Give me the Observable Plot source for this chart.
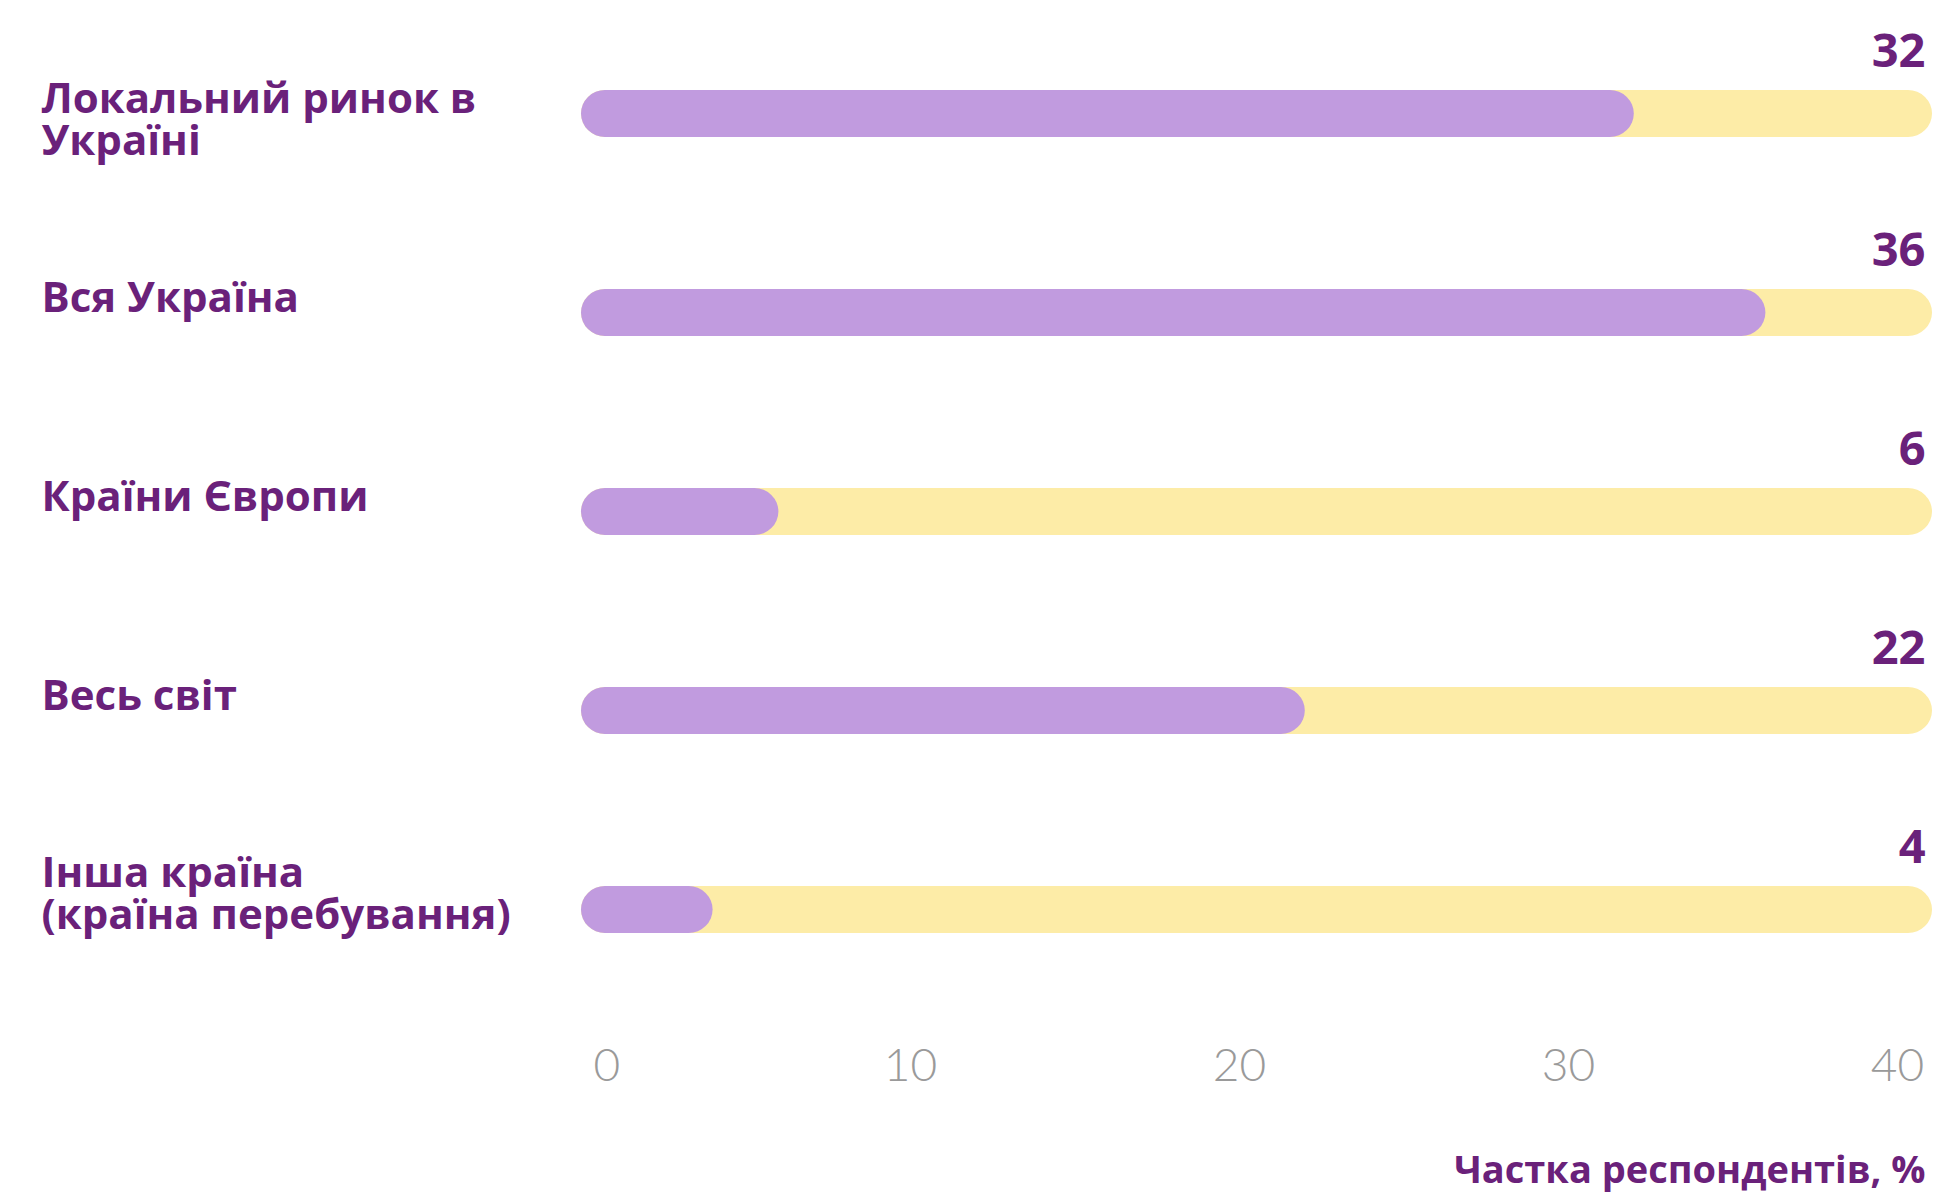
<!DOCTYPE html>
<html>
<head>
<meta charset="utf-8">
<script src="https://cdn.jsdelivr.net/npm/d3@7"></script>
<script src="https://cdn.jsdelivr.net/npm/@observablehq/plot@0.6"></script>
<style>
  html, body { margin: 0; padding: 0; background: #ffffff; }
  #chart svg { display: block; }
</style>
</head>
<body>
<div id="chart"></div>
<script>
const categories = [
  "Локальний ринок в\nУкраїні",
  "Вся Україна",
  "Країни Європи",
  "Весь світ",
  "Інша країна\n(країна перебування)"
];
const values = [32, 36, 6, 22, 4];
const maxValue = 40;
const xTicks = [0, 10, 20, 30, 40];
const xLabel = "Частка респондентів, %";

const data = categories.map((c, i) => ({category: c, value: values[i], max: maxValue, idx: i}));

const purpleText = "#6a217a";
const font = "'Open Sans', 'DejaVu Sans', sans-serif";

const chart = Plot.plot({
  width: 1937,
  height: 1194,
  marginLeft: 581,
  marginRight: 40,
  marginTop: 12,
  marginBottom: 184,
  style: {background: "#ffffff", fontFamily: font},
  x: {domain: [0, maxValue], axis: null},
  y: {domain: categories, axis: null, padding: 0},
  marks: [
    Plot.barX(data, {x1: () => 0, x2: "max", y: "category", fill: "#fdeca7", insetTop: 76, insetBottom: 76, insetRight: -35, rx: 24}),
    Plot.barX(data, {x1: () => 0, x2: "value", y: "category", fill: "#c19bdf", insetTop: 76, insetBottom: 76, rx: 24}),
    Plot.text(data, {x: "max", y: "category", text: d => String(d.value), textAnchor: "end", lineAnchor: "bottom", dx: 28, dy: -47, fontSize: 47, fontWeight: 700, fill: purpleText}),
    Plot.text(data, {filter: d => d.idx < 4, y: "category", text: "category", frameAnchor: "left", textAnchor: "start", lineAnchor: "top", dx: -540, dy: -31, fontSize: 42, lineHeight: 1.0, fontWeight: 700, fill: purpleText}),
    Plot.text(data, {filter: d => d.idx >= 4, y: "category", text: "category", frameAnchor: "left", textAnchor: "start", lineAnchor: "top", dx: -540, dy: -53, fontSize: 42, lineHeight: 1.0, fontWeight: 700, fill: purpleText}),
    Plot.text(xTicks.filter(d => d > 0), {x: d => d, text: d => String(d), frameAnchor: "bottom", lineAnchor: "bottom", dy: 70, fontSize: 46, fontWeight: 300, fontFamily: "Lato, 'Open Sans', sans-serif", fill: "#9a9a9a"}),
    Plot.text(xTicks.filter(d => d === 0), {x: d => d, text: d => String(d), frameAnchor: "bottom", textAnchor: "start", lineAnchor: "bottom", dx: 12, dy: 70, fontSize: 46, fontWeight: 300, fontFamily: "Lato, 'Open Sans', sans-serif", fill: "#9a9a9a"}),
    Plot.text([xLabel], {text: d => d, frameAnchor: "bottom-right", textAnchor: "end", lineAnchor: "bottom", dx: 28, dy: 172, fontSize: 38, fontWeight: 700, fill: purpleText})
  ]
});
document.getElementById("chart").appendChild(chart);
</script>
</body>
</html>
